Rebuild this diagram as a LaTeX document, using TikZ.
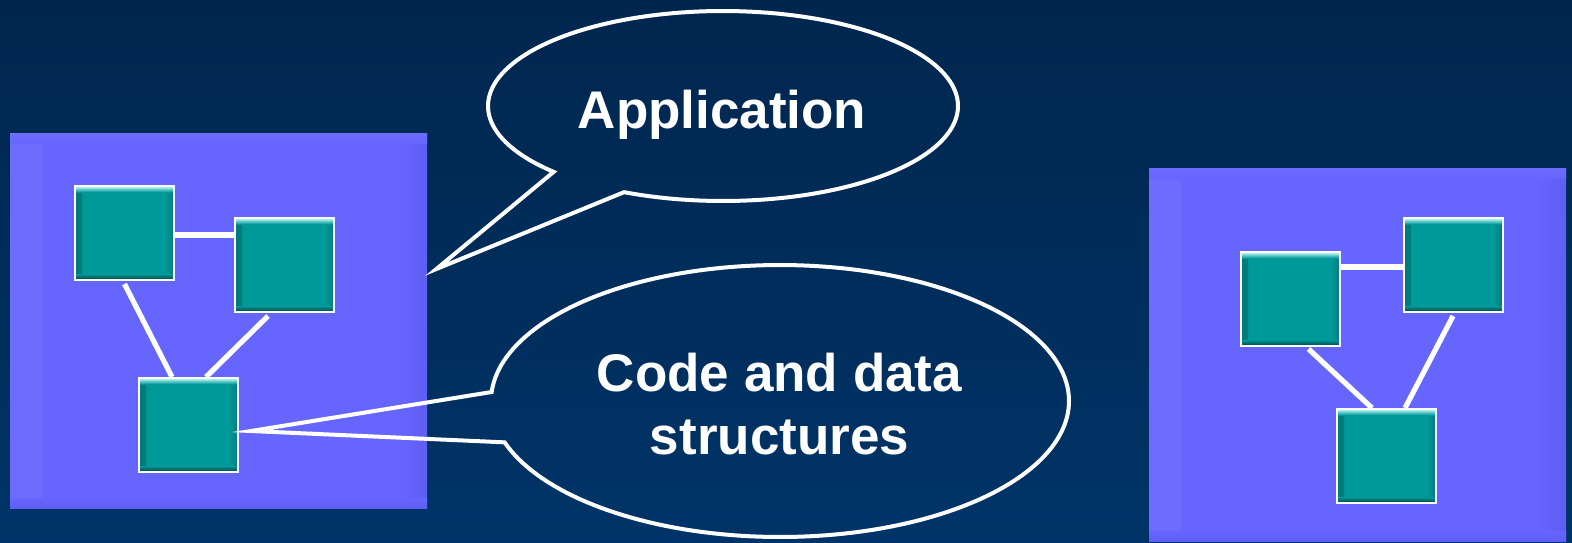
\documentclass[tikz,border=0pt]{standalone}
\usepackage{fontspec}
\setmainfont{Liberation Sans}
\usetikzlibrary{calc}
\definecolor{bgtop}{RGB}{0,38,78}
\definecolor{bgbot}{RGB}{0,52,104}
\definecolor{boxblue}{RGB}{102,102,255}
\definecolor{boxlight}{RGB}{108,108,255}
\definecolor{boxdark}{RGB}{94,94,244}
\definecolor{tealmain}{RGB}{0,153,153}
\definecolor{tealside}{RGB}{0,122,122}
\definecolor{tealshadow}{RGB}{0,60,60}
\definecolor{teallight}{RGB}{210,255,255}
\begin{document}
\begin{tikzpicture}[x=0.5pt,y=-0.5pt,
  panel/.style={rectangle, fill=boxblue, inner sep=0pt, minimum width=208.5pt,
    path picture={
      \fill[left color=boxlight, right color=boxblue] (path picture bounding box.north west) rectangle ($(path picture bounding box.south west)+(32,0)$);
      \fill[left color=boxblue, right color=boxdark] ($(path picture bounding box.north east)+(-30,0)$) rectangle (path picture bounding box.south east);
      \fill[top color=boxlight, bottom color=boxblue] (path picture bounding box.north west) rectangle ($(path picture bounding box.north east)+(0,10)$);
      \fill[top color=boxblue, bottom color=boxdark] ($(path picture bounding box.south west)+(0,-10)$) rectangle (path picture bounding box.south east);
    }},
  sq/.style={rectangle, draw=white, line width=1pt, fill=tealmain, inner sep=0pt,
    minimum width=49.5pt, minimum height=47pt,
    path picture={
      \fill[left color=tealside, right color=tealmain] (path picture bounding box.south west) rectangle ($(path picture bounding box.north west)+(7,0)$);
      \fill[left color=tealmain, right color=tealside] ($(path picture bounding box.south east)+(-9,0)$) rectangle (path picture bounding box.north east);
      \fill[top color=teallight, bottom color=tealmain] (path picture bounding box.north west) rectangle ($(path picture bounding box.north east)+(0,6)$);
      \fill[top color=tealmain, bottom color=tealshadow] ($(path picture bounding box.south west)+(0,-6)$) rectangle (path picture bounding box.south east);
    }},
  conn/.style={draw=white, line width=2.6pt},
  bubble/.style={draw=white, line width=2pt, line join=miter, miter limit=20},
  lbl/.style={text=white, font=\fontsize{26.5pt}{31.5pt}\selectfont\bfseries, inner sep=0pt}
]
\fill[top color=bgtop, bottom color=bgbot] (0,0) rectangle (1572,542);
\useasboundingbox (0,0) rectangle (1572,542);

% panels
\node[panel, minimum height=187.5pt] (L) at (218.5,320.5) {};
\node[panel, minimum height=186.5pt] (R) at (1357.5,354.5) {};

% left graph
\node[sq] (A) at (124.5,233) {};
\node[sq] (B) at (284.5,265) {};
\node[sq] (C) at (188.5,425) {};
\coordinate (ab) at ($(A.east)+(0,2)$);
\draw[conn] (ab) -- (ab -| B.west);
\draw[conn] ($(A.south)+(0,3)$) -- ($(C.north)+(-16.5,0)$);
\draw[conn] ($(B.south)+(-16.5,3)$) -- ($(C.north)+(17.5,0)$);

% right graph
\node[sq] (D) at (1290.5,299) {};
\node[sq] (E) at (1453,265) {};
\node[sq] (F) at (1386.5,456) {};
\coordinate (de) at ($(D.north east)+(0,16)$);
\draw[conn] (de) -- (de -| E.west);
\draw[conn] ($(D.south)+(18,2)$) -- ($(F.north)+(-14.5,0)$);
\draw[conn] ($(E.south)+(0,3)$) -- ($(F.north)+(18.5,0)$);

% bubbles
\coordinate (apptip) at ($(L.east)+(9,-51.5)$);
\coordinate (codetip) at ($(C.east)+(12,6)$);
\draw[bubble] (apptip) -- plot[domain=136.1:474.9, samples=160] ({723+235*cos(\x)},{106+95*sin(\x)}) -- cycle;
\draw[bubble] (codetip) -- plot[domain=183.8:522.3, samples=180] ({780+289*cos(\x)},{401+136*sin(\x)}) -- cycle;

\node[lbl, anchor=base] (app) at (722,128) {Application};
\node[lbl, anchor=center, align=center] (code) at (779.5,404) {Code and data\\structures};
\end{tikzpicture}
\end{document}
